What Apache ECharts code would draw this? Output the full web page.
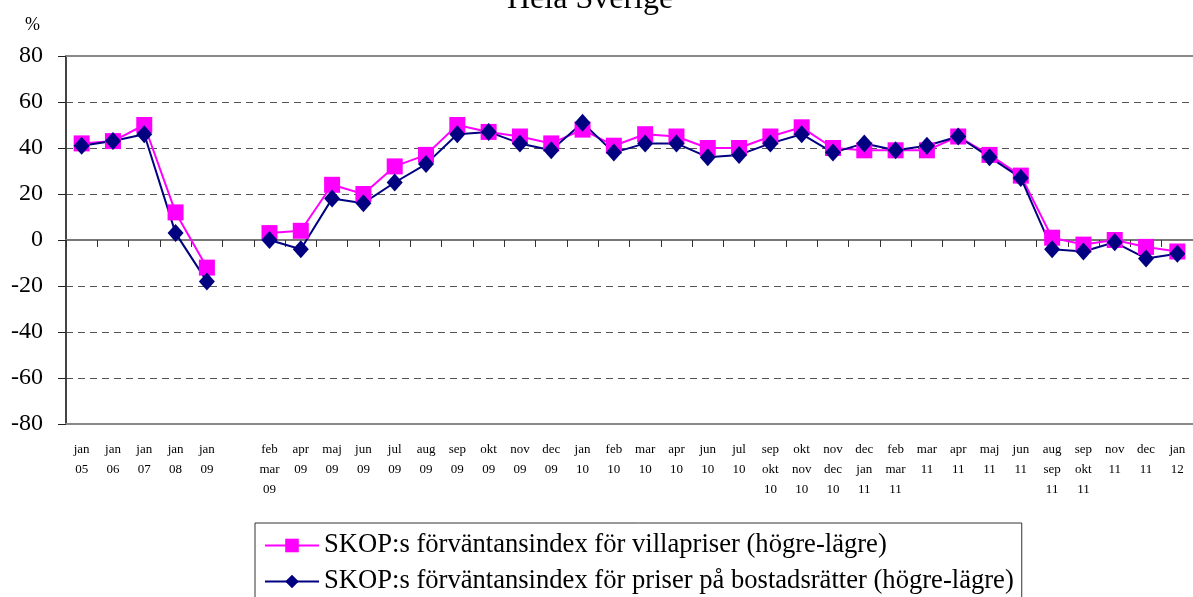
<!DOCTYPE html>
<html>
<head>
<meta charset="utf-8">
<script src="https://cdn.jsdelivr.net/npm/echarts@6/dist/echarts.min.js"></script>
<style>
  html, body { margin: 0; padding: 0; background: #fff; }
  #chart { width: 1193px; height: 597px; }
</style>
</head>
<body>
<div id="chart"></div>
<script>
  // kategorier (tom plats efter jan 09)
  let categories = [
    'jan\n05', 'jan\n06', 'jan\n07', 'jan\n08', 'jan\n09', '',
    'feb\nmar\n09', 'apr\n09', 'maj\n09', 'jun\n09', 'jul\n09', 'aug\n09', 'sep\n09', 'okt\n09', 'nov\n09', 'dec\n09',
    'jan\n10', 'feb\n10', 'mar\n10', 'apr\n10', 'jun\n10', 'jul\n10',
    'sep\nokt\n10', 'okt\nnov\n10', 'nov\ndec\n10', 'dec\njan\n11', 'feb\nmar\n11',
    'mar\n11', 'apr\n11', 'maj\n11', 'jun\n11',
    'aug\nsep\n11', 'sep\nokt\n11', 'nov\n11', 'dec\n11', 'jan\n12'
  ]
  let villa = [
    42, 43, 50, 12, -12, null,
    3, 4, 24, 20, 32, 37, 50, 47, 45, 42,
    48, 41, 46, 45, 40, 40,
    45, 49, 40, 39, 39,
    39, 45, 37, 28,
    1, -2, 0, -3, -5
  ]
  let bostadsratt = [
    41, 43, 46, 3, -18, null,
    0, -4, 18, 16, 25, 33, 46, 47, 42, 39,
    51, 38, 42, 42, 36, 37,
    42, 46, 38, 42, 39,
    41, 45, 36, 27,
    -4, -5, -1, -8, -6
  ]
  let yTicks = { min: -80, max: 80, interval: 20 }

  let serif = "'Liberation Serif', 'DejaVu Serif', serif"
  let chart = echarts.init(document.getElementById('chart'))

  let option = {
    animation: false,
    title: {
      text: 'Hela Sverige',
      left: 502,
      top: -21,
      textStyle: { fontFamily: serif, fontSize: 32, fontWeight: 'normal', color: '#000' }
    },
    legend: {
      orient: 'vertical',
      left: 255,
      top: 523,
      height: 120,
      padding: [9, 8, 12, 9],
      itemGap: 9,
      itemWidth: 54,
      itemHeight: 17,
      borderColor: '#333',
      borderWidth: 1,
      textStyle: { fontFamily: serif, fontSize: 26.6, color: '#000' },
      data: [
        'SKOP:s förväntansindex för villapriser (högre-lägre)',
        'SKOP:s förväntansindex för priser på bostadsrätter (högre-lägre)'
      ]
    },
    grid: {
      left: 66,
      right: -7,
      top: 56,
      bottom: 173,
      containLabel: false
    },
    xAxis: [
      {
        type: 'category',
        data: categories,
        position: 'bottom',
        boundaryGap: true,
        axisLine: { onZero: false, lineStyle: { color: '#888', width: 2 } },
        axisTick: { show: false },
        axisLabel: {
          interval: 0,
          margin: 16,
          fontFamily: serif,
          fontSize: 13,
          lineHeight: 20,
          color: '#000',
          verticalAlign: 'top'
        },
        splitLine: { show: false }
      },
      {
        type: 'category',
        data: categories,
        position: 'bottom',
        boundaryGap: true,
        axisLine: { onZero: true, lineStyle: { color: '#777', width: 2 } },
        axisTick: { show: true, inside: false, length: 7, interval: 0, lineStyle: { color: '#333', width: 1 } },
        axisLabel: { show: false },
        splitLine: { show: false }
      },
      {
        type: 'category',
        data: categories,
        position: 'top',
        axisLine: { onZero: false, lineStyle: { color: '#888', width: 2 } },
        axisTick: { show: false },
        axisLabel: { show: false },
        splitLine: { show: false }
      }
    ],
    yAxis: {
      type: 'value',
      min: yTicks.min,
      max: yTicks.max,
      interval: yTicks.interval,
      name: '%',
      nameLocation: 'end',
      nameGap: 22,
      nameTextStyle: { fontFamily: serif, fontSize: 18, color: '#000', align: 'right', padding: [0, 26, 0, 0] },
      axisLine: { show: true, lineStyle: { color: '#444', width: 2 } },
      axisTick: { show: true, length: 8, lineStyle: { color: '#222', width: 1 } },
      axisLabel: { margin: 23, fontFamily: serif, fontSize: 24, color: '#000' },
      splitLine: {
        show: true,
        lineStyle: {
          type: [7, 5],
          width: 1,
          color: ['transparent', '#555', '#555', '#555', 'transparent', '#555', '#555', '#555', 'transparent']
        }
      }
    },
    series: [
      {
        name: 'SKOP:s förväntansindex för villapriser (högre-lägre)',
        type: 'line',
        xAxisIndex: 0,
        data: villa,
        connectNulls: false,
        symbol: 'rect',
        symbolSize: 16,
        itemStyle: { color: '#ff00ff' },
        lineStyle: { color: '#ff00ff', width: 2 }
      },
      {
        name: 'SKOP:s förväntansindex för priser på bostadsrätter (högre-lägre)',
        type: 'line',
        xAxisIndex: 0,
        data: bostadsratt,
        connectNulls: false,
        symbol: 'diamond',
        symbolSize: [16, 18],
        itemStyle: { color: '#000080' },
        lineStyle: { color: '#000080', width: 2 }
      }
    ]
  }
  chart.setOption(option)
</script>
</body>
</html>
